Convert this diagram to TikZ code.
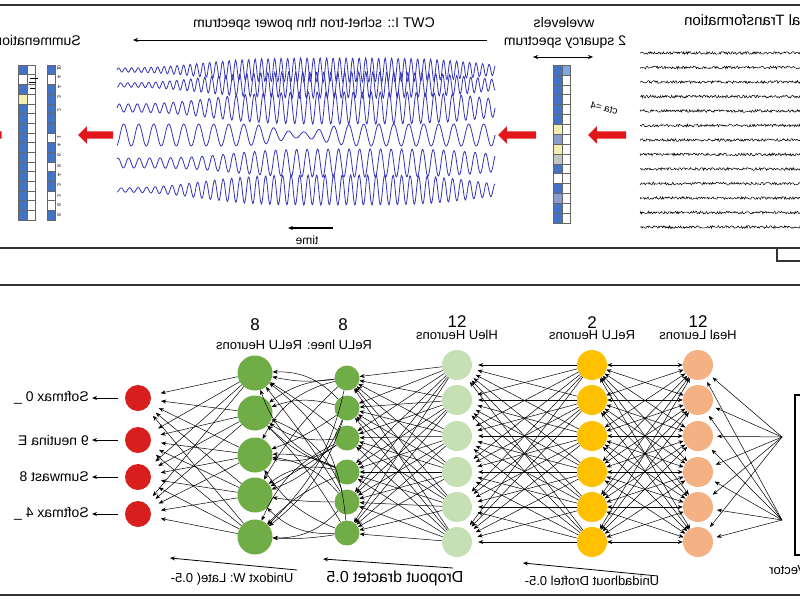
\documentclass[tikz,border=0pt]{standalone}
\usepackage{fontspec}
\setmainfont{Liberation Sans}
\usepackage{graphicx}
\usetikzlibrary{positioning,arrows.meta,shapes.arrows}

\definecolor{cellblue}{HTML}{4472C4}
\definecolor{cellyel}{HTML}{F3EDB0}
\definecolor{cellgry}{HTML}{C4C4C4}
\definecolor{cellmid}{HTML}{8A9CCF}
\definecolor{celllt}{HTML}{7FA7E3}
\definecolor{wavecol}{HTML}{3434B8}
\definecolor{redarr}{HTML}{E3161B}
\definecolor{outred}{HTML}{D91E1E}
\definecolor{greenA}{HTML}{70AD47}
\definecolor{greenB}{HTML}{C5E0B4}
\definecolor{yellowA}{HTML}{FFC000}
\definecolor{peach}{HTML}{F4B183}

\newcommand{\mir}[1]{\reflectbox{#1}}

\tikzstyle{arrow}    = [line width=0.5pt,->,>={Stealth[length=5pt,width=4pt]}]
\tikzstyle{biarrow}  = [arrow,<->]
\tikzstyle{frame}    = [line width=1.6pt, draw=black!80]
\tikzstyle{neuron}   = [circle, inner sep=0pt]
\tikzstyle{outn}     = [neuron, fill=outred,  minimum size=26pt]
\tikzstyle{greenbig} = [neuron, fill=greenA,  minimum size=35pt]
\tikzstyle{greensm}  = [neuron, fill=greenA,  minimum size=25pt]
\tikzstyle{greenlt}  = [neuron, fill=greenB,  minimum size=30pt]
\tikzstyle{yelln}    = [neuron, fill=yellowA, minimum size=30pt]
\tikzstyle{peachn}   = [neuron, fill=peach,   minimum size=30pt]
\tikzstyle{redarrow} = [single arrow, fill=redarr, shape border rotate=180,
                        single arrow head extend=5pt, inner sep=0pt, single arrow head indent=0pt]
\tikzstyle{wave}     = [draw=wavecol, line width=0.8pt]
\tikzstyle{noise}    = [line width=0.5pt]
\tikzstyle{cell}     = [draw=black!60, line width=0.4pt]
\tikzstyle{txtS}     = [inner sep=1pt, font=\fontsize{12}{14}\selectfont]
\tikzstyle{txtM}     = [inner sep=1pt, font=\fontsize{13}{15}\selectfont]
\tikzstyle{txtL}     = [inner sep=1pt, font=\fontsize{14}{16}\selectfont]
\tikzstyle{num}      = [inner sep=1pt, font=\fontsize{17}{19}\selectfont]

\begin{document}
\begin{tikzpicture}[x=1pt,y=-1pt]
\useasboundingbox (0,0) rectangle (800,600);
\fill [white] (0,0) rectangle (800,600);

% frames
\draw [frame] (-5,5) rectangle (805,248);
\draw [frame] (777,248) -- (777,261) -- (805,261);
\draw [frame] (-5,285) rectangle (805,595);
\draw [frame, draw=black] (795,395) rectangle (812,555);

% top labels
\node (cwt)   [txtL] at (314,24) {\mir{CWT I:: schet-tron thn power spectrum}};
\node (summ)  [txtL, anchor=east] at (82,40) {\mir{Summenation}};
\node (sigt)  [txtL, anchor=west, font=\fontsize{15}{17}\selectfont] at (683,22) {\mir{Signal Transformation}};
\node (wlev)  [txtL] at (564,22) {\mir{wvelevels}};
\node (wspec) [txtL] at (565,42) {\mir{2 squarcy spectrum}};
\node (cta)   [txtS, font=\fontsize{10}{12}\selectfont, rotate=-12] at (604,108) {\mir{cta =4}};
\node (tm)    [txtS] at (307,240) {\mir{time}};

\coordinate (cwtR) at (487,40);
\coordinate (cwtL) at (133,40);
\draw [arrow] (cwtR) -- (cwtL);
\coordinate (spL) at (533,57);
\coordinate (spR) at (593,57);
\draw [biarrow] (spL) -- (spR);
\coordinate (tmR) at (333,228);
\coordinate (tmL) at (288,228);
\draw [arrow, line width=1.8pt] (tmR) -- (tmL);

% red arrows
\node (ra0) [redarrow, minimum height=35pt] at (-14,135) {\rule{0pt}{7pt}};
\node (ra1) [redarrow, minimum height=35pt] at (97.5,135) {\rule{0pt}{7pt}};
\node (ra2) [redarrow, minimum height=38pt] at (519,135) {\rule{0pt}{7pt}};
\node (ra3) [redarrow, minimum height=38pt] at (609,135) {\rule{0pt}{7pt}};

% summation columns
\foreach \c [count=\i from 0] in {cellblue,white,cellblue,cellyel,cellblue,cellblue,cellblue,cellblue,
                                  cellblue,cellblue,cellblue,cellblue,cellblue,cellblue,cellblue,cellblue}
  \fill [\c] (18,65+9.69*\i) rectangle ++(9,9.69);
\foreach \i in {0,...,16} \draw [cell] (18,65+9.69*\i) -- (35,65+9.69*\i);
\draw [cell] (18,65) rectangle (35,220) (27,65) -- (27,220);
\draw [line width=0.4pt] (30,78) -- (38,78) (29,82) -- (36,82) (30,88) -- (35,88);

\foreach \c [count=\i from 0] in {cellblue,white,cellblue,cellblue,cellblue,cellblue,cellblue,white,
                                  cellblue,cellblue,white,cellblue,cellblue,white,white,cellblue}
  \fill [\c] (47,65+9.69*\i) rectangle ++(8,9.69);
\foreach \i in {0,...,16} \draw [cell] (47,65+9.69*\i) -- (55,65+9.69*\i);
\draw [cell] (47,65) rectangle (55,220);
\foreach \y/\t in {68/10,77/4,87/4,97/3,110/2,137/1,145/4,155/6,166/8,175/4,185/3,196/3,205/8,215/8}
  \node [inner sep=0pt, font=\fontsize{5}{6}\selectfont, rotate=-90] at (59,\y) {\mir{\t}};

% spectrum column
\foreach \c [count=\i from 0] in {cellblue,cellblue,cellblue,cellblue,cellblue,cellblue,cellyel,cellmid,
                                  cellyel,cellgry,cellblue,white,cellblue,cellmid,cellblue,cellblue}
  \fill [\c] (553,65+9.875*\i) rectangle ++(9,9.875);
\fill [celllt] (562,65) rectangle ++(8,9.875);
\foreach \i in {0,...,16} \draw [cell] (553,65+9.875*\i) -- (570,65+9.875*\i);
\draw [cell] (553,65) rectangle (570,223) (562,65) -- (562,223);

% wavelet rows
\foreach \yy/\ba/\pk/\pp/\cc/\ww in {70/2/10/6.5/340/150, 85/2/11/7/340/150, 108/4/12/9/350/150,
                                      163/5/9/10.5/360/140, 190/2/13/8.5/340/150}
  \draw [wave] plot [domain=117:495, samples=600]
    (\x, {\yy - (\ba + \pk*exp(-((\x-\cc)/\ww)*((\x-\cc)/\ww)*((\x-\cc)/\ww)*((\x-\cc)/\ww)))*sin(360*mod(\x,\pp)/\pp)});
\draw [wave] plot [domain=117:495, samples=500]
  (\x, {135 - (11 - 8*exp(-((\x-300)/30)*((\x-300)/30)))*sin(360*mod(\x,15)/15)});

% signal rows
\pgfmathsetseed{11}
\foreach \k in {0,...,12}
  \draw [noise] plot [domain=640:805, samples=220] (\x, {53+14.5*\k+1.4*rand});

% network
\foreach \y [count=\i] in {398,440,477,514}         \node (out\i) [outn]     at (138,\y) {};
\foreach \y [count=\i] in {373,413,455,495,537}     \node (ga\i)  [greenbig] at (255,\y) {};
\foreach \y [count=\i] in {378,408,438,472,502,533} \node (gb\i)  [greensm]  at (347,\y) {};
\foreach \y [count=\i] in {365,400,436,472,507,542} \node (gc\i)  [greenlt]  at (457,\y) {};
\foreach \y [count=\i] in {365,400,436,472,507,542} \node (ya\i)  [yelln]    at (592,\y) {};
\foreach \y [count=\i] in {365,400,436,472,507,542} \node (pa\i)  [peachn]   at (698,\y) {};
\coordinate (in1) at (782,437);
\coordinate (in2) at (782,520);

\foreach \i in {1,...,5} \foreach \j in {1,...,4}
  \draw [arrow, shorten >=10pt] (ga\i) -- (out\j);
\foreach \i in {1,...,6} \foreach \j in {1,...,5} {
  \pgfmathsetmacro\bnd{25*sin(\i*97+\j*61)}
  \draw [arrow] (gb\i) to [bend left=\bnd] (ga\j);
}
\foreach \i in {1,...,6} \foreach \j in {1,...,6}
  \draw [arrow] (gc\i) -- (gb\j);
\foreach \i in {1,...,6} \foreach \j in {1,...,6}
  \draw [arrow, shorten >=6pt] (ya\i) -- (gc\j);
\foreach \i in {1,...,6} \foreach \j in {1,...,6}
  \draw [biarrow] (pa\i) -- (ya\j);
\foreach \i in {1,...,6} {
  \draw [arrow, shorten >=4pt] (in1) -- (pa\i);
  \draw [arrow, shorten >=4pt] (in2) -- (pa\i);
}

% layer labels
\node (numA) [num]  at (255,325) {8};
\node (numB) [num]  at (343,325) {8};
\node (lblA) [txtM] at (294,345) {\mir{ReLU lnee: ReLU Heurons}};
\node (lblC) [txtM, above=9pt of gc1]  {\mir{HleU Heurons}};
\node (numC) [num,  above=0pt of lblC] {12};
\node (lblD) [txtM, above=9pt of ya1]  {\mir{ReLU Heurons}};
\node (numD) [num,  above=0pt of lblD] {2};
\node (lblE) [txtM, above=9pt of pa1]  {\mir{Heal Leurons}};
\node (numE) [num,  above=0pt of lblE] {12};

% output labels
\foreach \t [count=\i] in {Softmax 0 \_, 9 neutina E, Sumwast 8, Softmax 4 \_}
  \path (out\i) ++(-48,0) node (sl\i) [txtL, anchor=east] {\mir{\t}};
\foreach \i in {1,...,4}
  \draw [arrow, line width=1pt, shorten <=7pt, shorten >=2pt] (out\i) -- (sl\i);

% dropout captions
\coordinate (c1R) at (297,570);  \coordinate (c1L) at (170,558);
\coordinate (c2R) at (453,568);  \coordinate (c2L) at (323,559);
\coordinate (c3R) at (658,576);  \coordinate (c3L) at (523,563);
\draw [arrow, line width=0.8pt] (c1R) -- (c1L);
\draw [arrow, line width=0.8pt] (c2R) -- (c2L);
\draw [arrow, line width=0.8pt] (c3R) -- (c3L);
\node (cap1) [txtM] at (232,579) {\mir{Unidoxt W: Late( 0.5-}};
\node (cap2) [txtL, font=\fontsize{16}{18}\selectfont] at (395,578) {\mir{Dropout dractet 0.5}};
\node (cap3) [txtM] at (592,581) {\mir{Unidadhout Droftel 0.5-}};
\node (vec)  [txtM, anchor=west] at (768,571) {\mir{Input Vector}};
\end{tikzpicture}
\end{document}
